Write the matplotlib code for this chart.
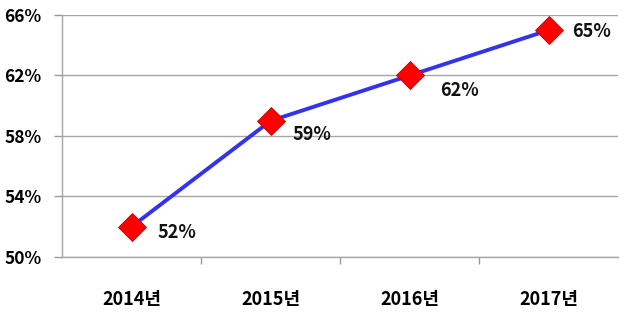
import matplotlib
matplotlib.use("Agg")
import matplotlib.pyplot as plt
import numpy as np

plt.rcParams['font.family'] = ['Noto Sans CJK KR', 'DejaVu Sans']

# Data
years = ['2014년', '2015년', '2016년', '2017년']
rates = [52, 59, 62, 65]
yticks = [50, 54, 58, 62, 66]

# label offsets (points), placed by hand like in the original
label_dx = [19, 16, 22, 17]
label_dy = [-4.5, -10, -11, -1]

fig = plt.figure(figsize=(6.4, 3.26), dpi=100)
ax = fig.add_axes([0.097, 0.212, 0.869, 0.742])

x = np.arange(len(years))
ax.plot(x, rates, color='#3333ee', linewidth=2.8, zorder=3,
        marker='D', markersize=14, markerfacecolor='#ff0000',
        markeredgecolor='#c00000', markeredgewidth=0.6)

# Data labels
for xi, v, dx, dy in zip(x, rates, label_dx, label_dy):
    ax.annotate(f'{v}%', (xi, v), xytext=(dx, dy), textcoords='offset points',
                ha='left', va='center', fontsize=13, fontweight='bold', color='#111111')

ax.set_xlim(-0.5, len(years) - 0.5)
ax.set_ylim(50, 66)
ax.set_yticks(yticks)
ax.set_yticklabels([f'{t}%' for t in yticks], fontsize=12.5, fontweight='bold')
ax.set_xticks(x)
ax.set_xticklabels(years, fontsize=13, fontweight='bold')
ax.set_xticks(np.arange(0.5, len(years) - 1), minor=True)

ax.tick_params(axis='x', which='major', length=0, pad=24)
ax.tick_params(axis='x', which='minor', length=5, color='#999999', width=1)
ax.tick_params(axis='y', length=6, color='#999999', width=1, pad=9)

ax.grid(axis='y', color='#a6a6a6', linewidth=1)
ax.set_axisbelow(True)
for s in ['top', 'right']:
    ax.spines[s].set_visible(False)
for s in ['left', 'bottom']:
    ax.spines[s].set_color('#a6a6a6')
    ax.spines[s].set_linewidth(1)

plt.savefig('out.png', dpi=100)
